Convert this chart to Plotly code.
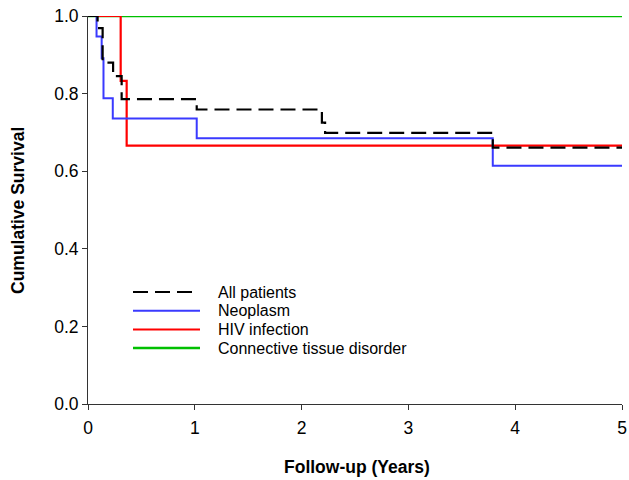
import plotly.graph_objects as go

# Kaplan-Meier step data (time in years, survival)
all_t = [0, 0.09, 0.137, 0.235, 0.315, 1.018, 2.19, 2.22, 3.79, 5]
all_s = [1.0, 0.969, 0.880, 0.845, 0.786, 0.759, 0.725, 0.699, 0.661, 0.661]

neo_t = [0, 0.08, 0.128, 0.145, 0.232, 1.018, 3.79, 5]
neo_s = [1.0, 0.947, 0.891, 0.788, 0.736, 0.685, 0.614, 0.614]

hiv_t = [0, 0.306, 0.362, 5]
hiv_s = [1.0, 0.833, 0.666, 0.666]

ctd_t = [0, 5]
ctd_s = [1.0, 1.0]

names = ["All patients", "Neoplasm", "HIV infection", "Connective tissue disorder"]
x_ticks = [0, 1, 2, 3, 4, 5]
y_ticks = [0, 0.2, 0.4, 0.6, 0.8, 1.0]

W, H = 629, 480
L, R, T, B = 88, 7, 16, 76
pw, ph = W - L - R, H - T - B

def px_x(x):
    return (x - L) / pw

def px_y(y):
    return (H - B - y) / ph

styles = [
    dict(color="black", width=2.2, dash="15px,7px"),
    dict(color="#3a3aff", width=2),
    dict(color="#ff0000", width=2.2),
    dict(color="#00c000", width=2.5),
]
series = [(all_t, all_s), (neo_t, neo_s), (hiv_t, hiv_s), (ctd_t, ctd_s)]

fig = go.Figure()
for i in [3, 2, 1, 0]:
    t, s = series[i]
    fig.add_trace(go.Scatter(x=t, y=s, mode="lines", line_shape="hv", name=names[i],
                             line=styles[i], cliponaxis=False, showlegend=False,
                             hoverinfo="skip"))

# manual legend (tight row spacing as in the reference)
shapes = []
annotations = []
row_y = [292, 310.7, 329.5, 348]
for i, name in enumerate(names):
    x1 = 192 if i == 0 else 200
    shapes.append(dict(type="line", xref="paper", yref="paper",
                       x0=px_x(133), x1=px_x(x1), y0=px_y(row_y[i]), y1=px_y(row_y[i]),
                       line=styles[i]))
    annotations.append(dict(text=name, xref="paper", yref="paper", x=px_x(216), y=px_y(row_y[i]),
                            xanchor="left", yanchor="middle", showarrow=False,
                            font=dict(size=16)))

annotations.append(dict(text="<b>Cumulative Survival</b>", x=px_x(18), y=px_y(211),
                        xref="paper", yref="paper", showarrow=False, textangle=-90,
                        xanchor="center", yanchor="middle", font=dict(size=17.5)))
annotations.append(dict(text="<b>Follow-up (Years)</b>", x=px_x(357), y=px_y(467),
                        xref="paper", yref="paper", showarrow=False,
                        xanchor="center", yanchor="middle", font=dict(size=17.5)))

fig.update_layout(
    width=W, height=H,
    margin=dict(l=L, r=R, t=T, b=B),
    paper_bgcolor="white", plot_bgcolor="white",
    font=dict(family="Liberation Sans, Arial", size=17.5, color="black"),
    showlegend=False,
    shapes=shapes,
    annotations=annotations,
)

fig.update_xaxes(range=[0, 5], tickvals=x_ticks, showgrid=False, zeroline=False, automargin=False,
                 showline=True, linecolor="#333", linewidth=1, ticks="outside", ticklen=5,
                 tickcolor="#333", ticklabeloverflow="allow", ticklabelstandoff=3)
fig.update_yaxes(range=[0, 1], tickvals=y_ticks, tickformat=".1f", automargin=False,
                 showgrid=False, zeroline=False,
                 showline=True, linecolor="#333", linewidth=1, ticks="outside", ticklen=5,
                 tickcolor="#333", ticklabelstandoff=0)

fig.write_html("out.html", config={"displayModeBar": False},
               post_script="document.body.style.margin='0';")
